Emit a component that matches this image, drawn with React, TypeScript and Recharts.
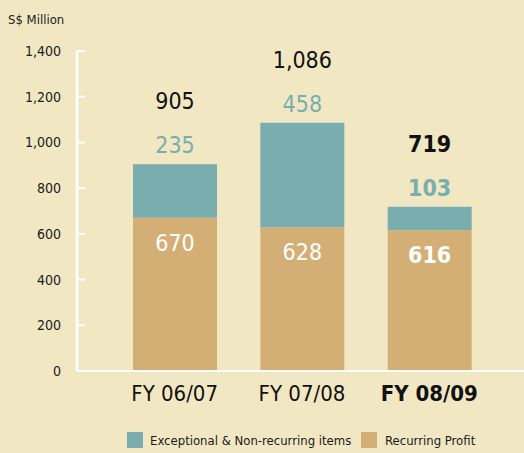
import { BarChart, Bar, XAxis, YAxis, LabelList } from "recharts";

const years = ["FY 06/07", "FY 07/08", "FY 08/09"];
const recurring = [670, 628, 616];
const exceptional = [235, 458, 103];
const totals = [905, 1086, 719];
const yTicks = [0, 200, 400, 600, 800, 1000, 1200, 1400];

const data = years.map((year, i) => ({
    year,
    recurring: recurring[i],
    exceptional: exceptional[i],
    total: totals[i],
}));

const FONT = '"Liberation Sans Narrow", "DejaVu Sans Condensed", "Roboto", sans-serif';
const BG = "#f1e8c3";
const TEAL = "#7aaeae";
const TAN = "#d4af75";

const fmt = (v: number) => v.toLocaleString("en-US");

function YTick(props: any) {
    const { x, y, payload } = props;
    return (
        <g>
            <line x1={x} x2={x + 8} y1={y} y2={y} stroke="#fff" strokeWidth={2} />
            <text x={x - 16} y={y} textAnchor="end" dominantBaseline="central" fontSize={14} fill="#1a1a1a" fontFamily={FONT}>
                {fmt(payload.value)}
            </text>
        </g>
    );
}

function XTick(props: any) {
    const { x, y, payload, index } = props;
    const last = index === years.length - 1;
    return (
        <text x={x} y={y + 22} textAnchor="middle" dominantBaseline="central" fontSize={22} fontWeight={last ? 700 : 400} fill="#111" fontFamily={FONT}>
            {payload.value}
        </text>
    );
}

function TopLabels(props: any) {
    const { x, y, width, index } = props;
    const cx = x + width / 2;
    const bold = index === years.length - 1 ? 700 : 400;
    return (
        <g fontFamily={FONT} fontSize={23} textAnchor="middle">
            <text x={cx} y={y - 19} dominantBaseline="central" fill={TEAL} fontWeight={bold}>
                {fmt(exceptional[index])}
            </text>
            <text x={cx} y={y - 63} dominantBaseline="central" fill="#111" fontWeight={bold}>
                {fmt(totals[index])}
            </text>
        </g>
    );
}

function InnerLabel(props: any) {
    const { x, y, width, index } = props;
    return (
        <text x={x + width / 2} y={y + 25} textAnchor="middle" dominantBaseline="central" fontSize={23} fill="#fff" fontFamily={FONT} fontWeight={index === years.length - 1 ? 700 : 400}>
            {fmt(recurring[index])}
        </text>
    );
}

export default function App() {
    return (
        <div style={{ position: "absolute", left: 0, top: 0, width: 524, height: 453, background: BG, fontFamily: FONT }}>
            <div style={{ position: "absolute", left: 8, top: 12, fontSize: 13, color: "#1a1a1a", whiteSpace: "nowrap" }}>S$ Million</div>

            <BarChart width={524} height={453} data={data} margin={{ top: 51, right: 0, bottom: 52, left: 0 }}>
                <YAxis
                    width={77}
                    domain={[0, 1400]}
                    ticks={yTicks}
                    axisLine={{ stroke: "#fff", strokeWidth: 2.5 }}
                    tickLine={false}
                    tickSize={0}
                    tickMargin={0}
                    tick={<YTick />}
                    interval={0}
                />
                <XAxis
                    dataKey="year"
                    height={30}
                    axisLine={{ stroke: "#fff", strokeWidth: 2 }}
                    tickLine={false}
                    tickSize={0}
                    tickMargin={0}
                    tick={<XTick />}
                    padding={{ left: 34, right: 31 }}
                    interval={0}
                />
                <Bar dataKey="recurring" stackId="a" fill={TAN} barSize={84} isAnimationActive={false}>
                    <LabelList dataKey="recurring" content={<InnerLabel />} />
                </Bar>
                <Bar dataKey="exceptional" stackId="a" fill={TEAL} barSize={84} isAnimationActive={false}>
                    <LabelList dataKey="exceptional" content={<TopLabels />} />
                </Bar>
            </BarChart>

            <div style={{ position: "absolute", left: 127, top: 432, display: "flex", alignItems: "center", fontSize: 13, color: "#1a1a1a", whiteSpace: "nowrap" }}>
                <span style={{ width: 16, height: 16, background: TEAL, display: "inline-block", marginRight: 7 }} />
                <span>Exceptional &amp; Non-recurring items</span>
            </div>
            <div style={{ position: "absolute", left: 361, top: 432, display: "flex", alignItems: "center", fontSize: 13, color: "#1a1a1a", whiteSpace: "nowrap" }}>
                <span style={{ width: 16, height: 16, background: TAN, display: "inline-block", marginRight: 8 }} />
                <span>Recurring Profit</span>
            </div>
        </div>
    );
}
